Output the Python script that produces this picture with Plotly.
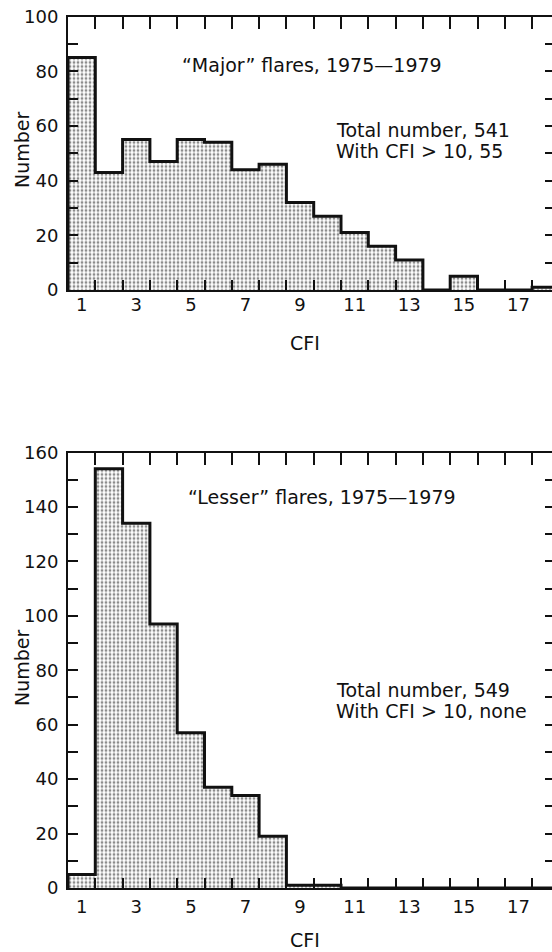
import plotly.graph_objects as go

# ---------------- data ----------------
cfi = list(range(1, 19))
major_counts = [85, 43, 55, 47, 55, 54, 44, 46, 32, 27, 21, 16, 11, 0, 5, 0, 0, 1]
lesser_counts = [5, 154, 134, 97, 57, 37, 34, 19, 1, 1, 0, 0, 0, 0, 0, 0, 0, 0]
x_tick_vals = [1, 3, 5, 7, 9, 11, 13, 15, 17]
x_tick_text = ["1", "3", "5", "7", "9", "11", "13", "15", "17"]
top_y_ticks = [0, 20, 40, 60, 80, 100]
bot_y_ticks = [0, 20, 40, 60, 80, 100, 120, 140, 160]
top_title = "\u201cMajor\u201d flares, 1975\u20141979"
bot_title = "\u201cLesser\u201d flares, 1975\u20141979"
top_note = ["Total number, 541", "With CFI > 10, 55"]
bot_note = ["Total number, 549", "With CFI > 10, none"]

# ---------------- layout constants ----------------
OFF = 0                      # page body margin removed by post_script below
PAGE_W, PAGE_H = 552, 952
W, H = PAGE_W - OFF, PAGE_H - OFF
AXIS_LEFT = 68               # page pixel of the left axis
ML = AXIS_LEFT - OFF
PW = W - ML
FONT = "DejaVu Sans"
INK = "#111111"
X_RANGE = [0.5, 0.5 + PW / 27.3]

edges = [c - 0.5 for c in cfi] + [cfi[-1] + 0.5]


def px_x(px):
    return (px - OFF - ML) / PW


def px_y(py):
    return 1 - (py - OFF) / H


def step_xy(counts):
    xs = [edges[0]] + edges
    ys = [0] + list(counts) + [0]
    return xs, ys


pattern = dict(shape=".", fgcolor="#1a1a1a", bgcolor="white", size=4, solidity=0.4)

fig = go.Figure()

for counts, xa, ya in [(major_counts, "x", "y"), (lesser_counts, "x2", "y2")]:
    fig.add_trace(go.Bar(
        x=cfi, y=counts, width=1, xaxis=xa, yaxis=ya,
        marker=dict(color="white", line=dict(width=0), pattern=pattern),
        showlegend=False, hoverinfo="skip",
    ))
    xs, ys = step_xy(counts)
    fig.add_trace(go.Scatter(
        x=xs, y=ys, mode="lines", line=dict(shape="hv", color=INK, width=3),
        xaxis=xa, yaxis=ya, showlegend=False, hoverinfo="skip",
    ))

# invisible traces to carry the frame axes (top / right)
for xa, ya in [("x3", "y3"), ("x4", "y4")]:
    fig.add_trace(go.Scatter(x=[cfi[0]], y=[0], mode="markers", marker=dict(opacity=0),
                             xaxis=xa, yaxis=ya, showlegend=False, hoverinfo="skip"))

top_dom = [px_y(290), px_y(16.5)]
bot_dom = [px_y(888), px_y(452.5)]

tickfont = dict(family=FONT, size=18, color=INK)


def bottom_x(anchor, standoff):
    return dict(
        range=X_RANGE, domain=[0, 1], anchor=anchor, automargin=False,
        tickmode="array", tickvals=x_tick_vals, ticktext=x_tick_text,
        ticks="inside", ticklen=0, tickfont=tickfont, ticklabelstandoff=standoff,
        ticklabeloverflow="allow",
        minor=dict(tickmode="array", tickvals=edges[1:], ticks="inside", ticklen=10,
                   tickwidth=1.5, tickcolor=INK, showgrid=False),
        showline=True, linewidth=2, linecolor=INK, showgrid=False, zeroline=False,
    )


def left_y(dom, rng, vals, anchor):
    return dict(
        range=rng, domain=dom, anchor=anchor, automargin=False,
        tickmode="array", tickvals=vals, ticks="inside", ticklen=10, tickwidth=1.5,
        tickcolor=INK, tickfont=tickfont, ticklabelstandoff=4,
        ticklabeloverflow="allow",
        minor=dict(dtick=10, tick0=0, ticks="inside", ticklen=10, tickwidth=1.5,
                   tickcolor=INK, showgrid=False),
        showline=True, linewidth=2, linecolor=INK, showgrid=False, zeroline=False,
    )


def top_x(over, anchor):
    return dict(
        range=X_RANGE, domain=[0, 1], overlaying=over, anchor=anchor, side="top",
        automargin=False,
        tickmode="array", tickvals=edges[1:], ticks="inside", ticklen=12, tickwidth=1.5,
        tickcolor=INK, showticklabels=False,
        showline=True, linewidth=2, linecolor=INK, showgrid=False, zeroline=False,
    )


def right_y(dom, rng, over, anchor):
    return dict(
        range=rng, domain=dom, overlaying=over, anchor=anchor, side="right",
        automargin=False,
        tickmode="linear", tick0=0, dtick=10, ticks="inside", ticklen=7, tickwidth=1.5,
        tickcolor=INK, showticklabels=False,
        showline=False, showgrid=False, zeroline=False,
    )


fig.update_layout(
    width=W, height=H,
    margin=dict(l=ML, r=0, t=0, b=0, pad=0, autoexpand=False),
    paper_bgcolor="white", plot_bgcolor="white",
    bargap=0,
    xaxis=bottom_x("y", -3),
    yaxis=left_y(top_dom, [0, 100], top_y_ticks, "x"),
    xaxis2=bottom_x("y2", 1),
    yaxis2=left_y(bot_dom, [0, 160], bot_y_ticks, "x2"),
    xaxis3=top_x("x", "y3"),
    yaxis3=right_y(top_dom, [0, 100], "y", "x3"),
    xaxis4=top_x("x2", "y4"),
    yaxis4=right_y(bot_dom, [0, 160], "y2", "x4"),
)

ann_font = dict(family=FONT, size=19, color=INK)


def text(t, x, y, xanchor="left", angle=0):
    fig.add_annotation(text=t, x=px_x(x), y=px_y(y), xref="paper", yref="paper",
                       xanchor=xanchor, yanchor="middle", showarrow=False,
                       font=ann_font, textangle=angle)


text(top_title, 180, 65)
text(top_note[0], 334, 130)
text(top_note[1], 334, 151)
text(bot_title, 186, 497)
text(bot_note[0], 334, 690)
text(bot_note[1], 334, 711)
text("Number", 22, 150, xanchor="center", angle=-90)
text("Number", 22, 668, xanchor="center", angle=-90)
text("CFI", 305, 343, xanchor="center")
text("CFI", 305, 940, xanchor="center")

fig.write_html(
    "out.html",
    config={"displayModeBar": False},
    post_script="document.body.style.margin='0';document.body.style.overflow='hidden';",
)
